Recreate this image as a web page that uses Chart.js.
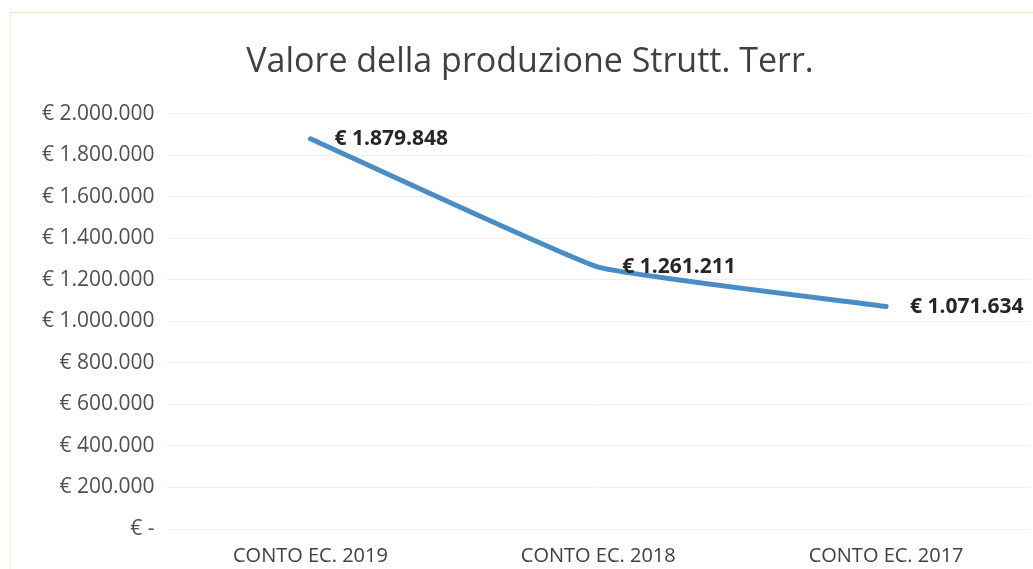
<!DOCTYPE html>
<html>
<head>
<meta charset="utf-8">
<script src="https://cdn.jsdelivr.net/npm/chart.js@4.4.1/dist/chart.umd.min.js"></script>
<style>
  html, body { margin: 0; padding: 0; background: #fff; }
  #wrap { position: relative; width: 1033px; height: 569px; }
  #frame { position: absolute; left: 10px; top: 12px; width: 1040px; height: 600px;
           border-top: 1px solid #e6ebb8; border-left: 1px solid #eef0c8; }
  canvas { position: absolute; left: 0; top: 0; }
</style>
</head>
<body>
<div id="wrap">
  <div id="frame"></div>
  <canvas id="chart" width="1033" height="569"></canvas>
</div>
<script>
const categories = ['CONTO EC. 2019', 'CONTO EC. 2018', 'CONTO EC. 2017'];
const values = [1879848, 1261211, 1071634];
const yMin = 0;
const yMax = 2000000;
const yStep = 200000;

function euro(v) {
    if (v === 0) return '€ -';
    return '€ ' + String(Math.round(v)).replace(/\B(?=(\d{3})+(?!\d))/g, '.');
}

// labels to the right of each point
const valueLabels = {
    id: 'valueLabels',
    afterDatasetsDraw(chart) {
        const ctx = chart.ctx;
        const meta = chart.getDatasetMeta(0);
        ctx.save();
        ctx.font = 'bold 21px "Open Sans", sans-serif';
        ctx.fillStyle = '#262626';
        ctx.textAlign = 'left';
        ctx.textBaseline = 'middle';
        meta.data.forEach((pt, i) => {
            ctx.fillText(euro(values[i]), pt.x + 24, pt.y);
        });
        ctx.restore();
    }
};

new Chart(document.getElementById('chart'), {
    type: 'line',
    data: {
        labels: categories,
        datasets: [{
            data: values,
            borderColor: '#4a8cc4',
            borderWidth: 5,
            pointRadius: 0,
            tension: 0.1,
            borderCapStyle: 'round',
            borderJoinStyle: 'round'
        }]
    },
    options: {
        responsive: false,
        animation: false,
        layout: { padding: { left: 30, right: 3, top: 0, bottom: 0 } },
        plugins: {
            legend: { display: false },
            tooltip: { enabled: false },
            title: {
                display: true,
                text: 'Valore della produzione Strutt. Terr.',
                color: '#404040',
                font: { family: '"Open Sans", sans-serif', size: 34, weight: 'normal' },
                padding: { top: 42, bottom: 31 }
            }
        },
        scales: {
            x: {
                offset: true,
                grid: { display: false },
                border: { display: false },
                afterFit: s => { s.height = 40; },
                ticks: {
                    color: '#404040',
                    font: { family: '"Open Sans", sans-serif', size: 20 },
                    padding: 7,
                    maxRotation: 0
                }
            },
            y: {
                min: yMin,
                max: yMax,
                ticks: {
                    stepSize: yStep,
                    color: '#505050',
                    font: { family: '"Open Sans", sans-serif', size: 21 },
                    padding: 12,
                    callback: v => euro(v)
                },
                grid: { color: 'rgba(0,0,0,0.06)', drawTicks: false },
                border: { display: false }
            }
        }
    },
    plugins: [valueLabels]
});
</script>
</body>
</html>
